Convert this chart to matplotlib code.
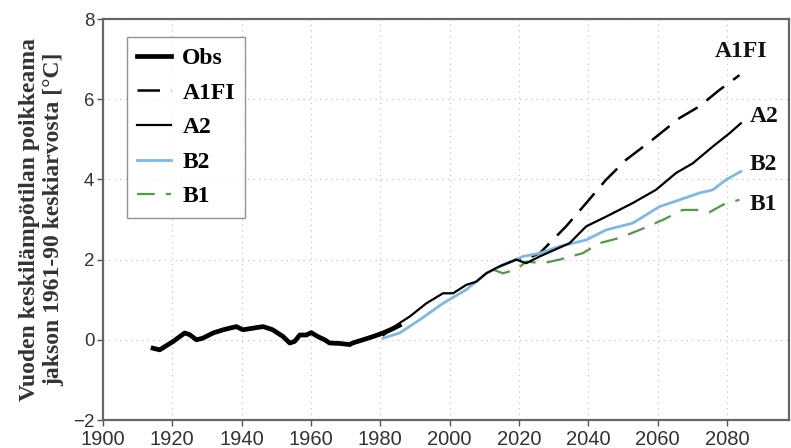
import matplotlib.pyplot as plt

# havainnot (liukuva keskiarvo)
obs_years = [1914.5, 1916.4, 1920.3, 1923.6, 1925, 1927, 1928.8, 1931.8, 1934.7, 1938.5,
             1940.4, 1943.3, 1946.2, 1949, 1952, 1953.9, 1955.3, 1956.8, 1958.7, 1960.1,
             1962, 1964, 1965.4, 1968.3, 1971.2, 1972, 1975, 1977.9, 1980.8, 1983.2, 1985.5]
obs_vals = [-0.21, -0.25, -0.04, 0.17, 0.13, 0.0, 0.04, 0.17, 0.25, 0.33,
            0.25, 0.29, 0.33, 0.25, 0.08, -0.08, -0.04, 0.12, 0.12, 0.18,
            0.08, 0.0, -0.08, -0.09, -0.12, -0.08, 0.0, 0.08, 0.17, 0.26, 0.36]

a2_years = [1981, 1985.6, 1988.5, 1993.3, 1998.1, 2001, 2004.8, 2007.7, 2010.6, 2014.4,
            2019.2, 2022.1, 2026, 2034.6, 2039.4, 2045.1, 2052.8, 2059.5, 2065.3, 2070.1,
            2075.9, 2080.7, 2084]
a2_vals = [0.12, 0.42, 0.58, 0.91, 1.16, 1.16, 1.37, 1.45, 1.66, 1.83,
           2.0, 1.91, 2.08, 2.41, 2.83, 3.07, 3.41, 3.74, 4.16, 4.40,
           4.82, 5.15, 5.40]

a1fi_years = [2014.4, 2019.2, 2022.1, 2026, 2033.6, 2039.4, 2045.1, 2050.9, 2058.5, 2066.3,
              2072, 2077.8, 2083.6]
a1fi_vals = [1.83, 2.0, 2.02, 2.16, 2.83, 3.41, 3.99, 4.49, 4.99, 5.53,
             5.82, 6.23, 6.6]

b2_years = [1980.8, 1985.6, 1991.4, 1998.1, 2004.8, 2010.6, 2014.4, 2021.2, 2026, 2031.7,
            2039.4, 2045.1, 2052.8, 2060.5, 2066.3, 2072, 2075.9, 2079.7, 2084]
b2_vals = [0.04, 0.17, 0.50, 0.91, 1.25, 1.66, 1.83, 2.08, 2.16, 2.33,
           2.49, 2.74, 2.91, 3.32, 3.49, 3.66, 3.74, 3.99, 4.20]

b1_years = [2012.5, 2015.4, 2019.2, 2022.1, 2026.9, 2031.7, 2038.4, 2043.2, 2049, 2054.8,
            2061.5, 2067.2, 2072, 2074.9, 2079.7, 2083.6]
b1_vals = [1.75, 1.66, 1.75, 1.95, 1.91, 2.0, 2.16, 2.41, 2.54, 2.74,
           2.99, 3.24, 3.24, 3.18, 3.41, 3.49]

end_labels = ["A1FI", "A2", "B2", "B1"]
end_label_pos = [(2084.1, 7.18), (2086.5, 5.56), (2086.5, 4.36), (2086.5, 3.37)]
end_label_ha = ["center", "left", "left", "left"]

serif = ["Liberation Serif", "DejaVu Serif"]
sans = ["Liberation Sans", "DejaVu Sans"]

fig = plt.figure(figsize=(7.91, 4.48), dpi=100)
ax = fig.add_axes([0.130, 0.0625, 0.868, 0.895])

ax.plot(obs_years, obs_vals, color="black", lw=3.4, label="Obs", zorder=5)
ax.plot(a1fi_years, a1fi_vals, color="black", lw=1.8, dashes=(9, 4.5), label="A1FI", zorder=3)
ax.plot(a2_years, a2_vals, color="black", lw=1.6, label="A2", zorder=4)
ax.plot(b2_years, b2_vals, color="#7db9e3", lw=2.0, label="B2", zorder=3)
ax.plot(b1_years, b1_vals, color="#4f9a45", lw=1.6, dashes=(8, 5), label="B1", zorder=2)

for lab, (x, y), ha in zip(end_labels, end_label_pos, end_label_ha):
    ax.text(x, y, lab, family=serif, fontweight="bold", fontsize=17,
            ha=ha, va="center", color="#111")

ax.set_xlim(1900, 2098)
ax.set_ylim(-2, 8)
ax.set_xticks(range(1900, 2081, 20))
ax.set_yticks(range(-2, 9, 2))
ax.set_yticklabels(["\u22122", "0", "2", "4", "6", "8"])
ax.tick_params(direction="out", length=4, width=1, colors="#555", labelcolor="#333")
ax.tick_params(axis="x", labelsize=14.5, pad=3)
ax.tick_params(axis="y", labelsize=13.5, pad=2)
for lbl in ax.get_xticklabels() + ax.get_yticklabels():
    lbl.set_family(sans)
ax.grid(True, color="#bbbbbb", linestyle=(0, (1, 4)), lw=0.8)
for s in ax.spines.values():
    s.set_color("#666")
    s.set_linewidth(1.6)

ax.set_ylabel("Vuoden keskilämpötilan poikkeama\njakson 1961-90 keskiarvosta [°C]",
              family=serif, fontweight="bold", fontsize=17, color="#333",
              linespacing=1.25, labelpad=6)

leg = ax.legend(loc="upper left", bbox_to_anchor=(0.035, 0.955), borderaxespad=0,
                frameon=True, fancybox=False, edgecolor="#777", handlelength=1.4,
                labelspacing=0.55, borderpad=0.45, handletextpad=0.5,
                prop={"family": serif, "weight": "bold", "size": 17})
leg.get_frame().set_linewidth(1.0)

plt.savefig("out.png", dpi=100)
